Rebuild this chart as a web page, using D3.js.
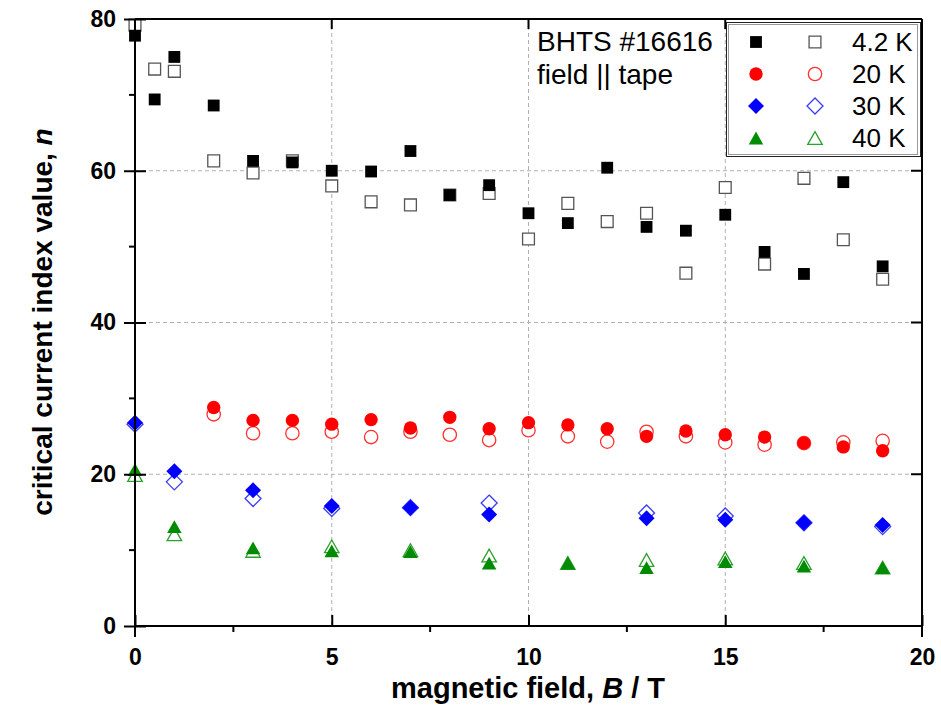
<!DOCTYPE html>
<html>
<head>
<meta charset="utf-8">
<script src="https://cdn.jsdelivr.net/npm/d3@7"></script>
<style>
  body { margin: 0; background: #fff; }
  svg { display: block; font-family: "Liberation Sans", Arial, sans-serif; }
</style>
</head>
<body>
<svg></svg>
<script>
let width = 941,
    height = 716;

// data
let fields42 = [0, 0.5, 1, 2, 3, 4, 5, 6, 7, 8, 9, 10, 11, 12, 13, 14, 15, 16, 17, 18, 19];
let n42Filled = [77.8, 69.4, 75.0, 68.6, 61.3, 61.1, 60.0, 59.9, 62.6, 56.8, 58.1, 54.4, 53.1, 60.4, 52.6, 52.1, 54.2, 49.3, 46.4, 58.5, 47.4];
let n42Open = [79.2, 73.4, 73.1, 61.3, 59.7, 61.3, 58.0, 55.9, 55.5, 56.8, 57.0, 51.0, 55.7, 53.3, 54.4, 46.5, 57.8, 47.7, 59.0, 50.9, 45.7];

let fields20 = [2, 3, 4, 5, 6, 7, 8, 9, 10, 11, 12, 13, 14, 15, 16, 17, 18, 19];
let n20Filled = [28.8, 27.1, 27.1, 26.6, 27.2, 26.1, 27.5, 26.0, 26.8, 26.5, 26.0, 25.0, 25.7, 25.2, 24.9, 24.1, 23.6, 23.1];
let n20Open = [27.9, 25.4, 25.4, 25.6, 24.9, 25.6, 25.2, 24.5, 25.8, 25.0, 24.3, 25.6, 25.0, 24.2, 23.9, 24.1, 24.2, 24.4];

let fields30 = [0, 1, 3, 5, 7, 9, 13, 15, 17, 19];
let n30Filled = [26.8, 20.4, 17.9, 15.8, 15.6, 14.7, 14.2, 14.0, 13.6, 13.3];
let n30Open = [26.6, 19.0, 16.8, 15.5, 15.6, 16.2, 14.9, 14.5, 13.6, 13.1];

let fields40 = [0, 1, 3, 5, 7, 9, 11, 13, 15, 17, 19];
let n40Filled = [20.6, 13.1, 10.3, 9.9, 9.8, 8.3, 8.3, 7.7, 8.5, 7.9, 7.7];
let n40Open = [19.9, 12.1, 9.9, 10.5, 10.0, 9.3, 8.3, 8.7, 8.9, 8.3, 7.7];

let temperatures = ['4.2 K', '20 K', '30 K', '40 K'];
let xTicks = [0, 5, 10, 15, 20];
let yTicks = [0, 20, 40, 60, 80];

let svg = d3.select("svg")
    .attr("width", width)
    .attr("height", height);

let plotLeft = 135, plotRight = 922, plotTop = 19, plotBottom = 626;

let x = d3.scaleLinear().domain([0, 20]).range([plotLeft, plotRight]);
let y = d3.scaleLinear().domain([0, 80]).range([plotBottom, plotTop]);

// symbol shapes (diamond drawn as a square turned 45 degrees)
let diamond = {
    draw(ctx, size) {
        let r = Math.sqrt(size) / 2;
        ctx.moveTo(0, -r); ctx.lineTo(r, 0); ctx.lineTo(0, r); ctx.lineTo(-r, 0); ctx.closePath();
    }
};
let triangle = {
    draw(ctx, size) {
        let w = Math.sqrt(size);
        let h = w * 0.88;
        ctx.moveTo(0, -h / 2); ctx.lineTo(w / 2, h / 2); ctx.lineTo(-w / 2, h / 2); ctx.closePath();
    }
};

let series = [
    { label: temperatures[0], b: fields42, filled: n42Filled, open: n42Open, color: "#000", openColor: "#555", type: d3.symbolSquare, size: 140 },
    { label: temperatures[1], b: fields20, filled: n20Filled, open: n20Open, color: "#ff0000", openColor: "#ff3030", type: d3.symbolCircle, size: 140 },
    { label: temperatures[2], b: fields30, filled: n30Filled, open: n30Open, color: "#0000ff", openColor: "#3a3aff", type: diamond, size: 256 },
    { label: temperatures[3], b: fields40, filled: n40Filled, open: n40Open, color: "#008c00", openColor: "#2ea02e", type: triangle, size: 210 }
];

// dashed grid
let grid = svg.append("g").attr("stroke", "#b0b0b0").attr("stroke-width", 1).attr("stroke-dasharray", "4,3");
[5, 10, 15].forEach(v => {
    grid.append("line").attr("x1", x(v)).attr("x2", x(v)).attr("y1", plotTop).attr("y2", plotBottom);
});
[20, 40, 60].forEach(v => {
    grid.append("line").attr("x1", plotLeft).attr("x2", plotRight).attr("y1", y(v)).attr("y2", y(v));
});

// text label
let note = svg.append("g").attr("font-size", 28).attr("fill", "#000");
note.append("text").attr("x", 537).attr("y", 51).text("BHTS #16616");
note.append("text").attr("x", 537).attr("y", 84).text("field || tape");

// markers: open first, filled on top
let marks = svg.append("g");
series.forEach(s => {
    let sym = d3.symbol().type(s.type).size(s.size);
    marks.append("g").selectAll("path")
        .data(s.b.map((b, i) => [b, s.open[i]]))
        .enter().append("path")
        .attr("d", sym)
        .attr("transform", d => `translate(${x(d[0])},${y(d[1])})`)
        .attr("fill", "#fff")
        .attr("stroke", s.openColor)
        .attr("stroke-width", 1.3);
});
series.forEach(s => {
    let sym = d3.symbol().type(s.type).size(s.size);
    marks.append("g").selectAll("path")
        .data(s.b.map((b, i) => [b, s.filled[i]]))
        .enter().append("path")
        .attr("d", sym)
        .attr("transform", d => `translate(${x(d[0])},${y(d[1])})`)
        .attr("fill", s.color);
});

// legend
let legend = svg.append("g");
legend.append("rect").attr("x", 726.5).attr("y", 22.5).attr("width", 194).attr("height", 134)
    .attr("fill", "#fff").attr("stroke", "#222").attr("stroke-width", 1);
legend.append("rect").attr("x", 728.5).attr("y", 24.5).attr("width", 189).attr("height", 130)
    .attr("fill", "none").attr("stroke", "#999").attr("stroke-width", 1);
series.forEach((s, i) => {
    let cy = 42 + i * 32;
    let sym = d3.symbol().type(s.type).size(s.size);
    legend.append("path").attr("d", sym).attr("transform", `translate(756,${cy})`).attr("fill", s.color);
    legend.append("path").attr("d", sym).attr("transform", `translate(815,${cy})`)
        .attr("fill", "#fff").attr("stroke", s.openColor).attr("stroke-width", 1.3);
    legend.append("text").attr("x", 852).attr("y", cy + 9).attr("font-size", 26).text(s.label);
});

// axes frame
let axisColor = "#000";
let frame = svg.append("g").attr("stroke", axisColor).attr("stroke-width", 2).attr("fill", "none");
frame.append("line").attr("x1", plotLeft).attr("x2", plotRight).attr("y1", plotBottom).attr("y2", plotBottom);
frame.append("line").attr("x1", plotLeft).attr("x2", plotRight).attr("y1", plotTop).attr("y2", plotTop);
frame.append("line").attr("x1", plotLeft).attr("x2", plotLeft).attr("y1", plotTop).attr("y2", plotBottom + 11);
frame.append("line").attr("x1", plotRight).attr("x2", plotRight).attr("y1", plotTop).attr("y2", plotBottom + 11);

// bottom axis
let xAxis = svg.append("g").attr("transform", `translate(0,${plotBottom})`)
    .call(d3.axisBottom(x).tickValues(xTicks).tickSizeInner(-11).tickSizeOuter(0).tickPadding(23));
xAxis.select(".domain").remove();
xAxis.selectAll(".tick line").attr("stroke-width", 2).attr("y2", -11);
xAxis.selectAll(".tick text").attr("font-size", 23).attr("font-weight", "bold")
    .attr("font-family", "Liberation Sans, Arial, sans-serif").attr("fill", "#000");
let xMinor = svg.append("g").attr("stroke", axisColor).attr("stroke-width", 2);
[2.5, 7.5, 12.5, 17.5].forEach(v => {
    xMinor.append("line").attr("x1", x(v)).attr("x2", x(v)).attr("y1", plotBottom).attr("y2", plotBottom + 6);
});
// top axis ticks
xTicks.slice(1, -1).forEach(v => {
    xMinor.append("line").attr("x1", x(v)).attr("x2", x(v)).attr("y1", plotTop).attr("y2", plotTop + 10);
});

// left axis
let yAxis = svg.append("g").attr("transform", `translate(${plotLeft},0)`)
    .call(d3.axisLeft(y).tickValues(yTicks).tickSize(11).tickPadding(8));
yAxis.select(".domain").remove();
yAxis.selectAll(".tick line").attr("stroke-width", 2).attr("x2", 11).attr("x1", -11);
yAxis.selectAll(".tick text").attr("font-size", 23).attr("font-weight", "bold")
    .attr("font-family", "Liberation Sans, Arial, sans-serif").attr("fill", "#000");
let yMinor = svg.append("g").attr("stroke", axisColor).attr("stroke-width", 2);
[10, 30, 50, 70].forEach(v => {
    yMinor.append("line").attr("x1", plotLeft - 6).attr("x2", plotLeft).attr("y1", y(v)).attr("y2", y(v));
});
// right axis ticks
yTicks.slice(1, -1).forEach(v => {
    yMinor.append("line").attr("x1", plotRight - 11).attr("x2", plotRight).attr("y1", y(v)).attr("y2", y(v));
});

// axis titles
let xTitle = svg.append("text").attr("x", 528).attr("y", 698)
    .attr("text-anchor", "middle").attr("font-size", 29).attr("font-weight", "bold");
xTitle.append("tspan").text("magnetic field, ");
xTitle.append("tspan").attr("font-style", "italic").text("B");
xTitle.append("tspan").text(" / T");

let yTitle = svg.append("text").attr("transform", `translate(52,322) rotate(-90)`)
    .attr("text-anchor", "middle").attr("font-size", 28).attr("font-weight", "bold");
yTitle.append("tspan").text("critical current index value, ");
yTitle.append("tspan").attr("font-style", "italic").text("n");
</script>
</body>
</html>
